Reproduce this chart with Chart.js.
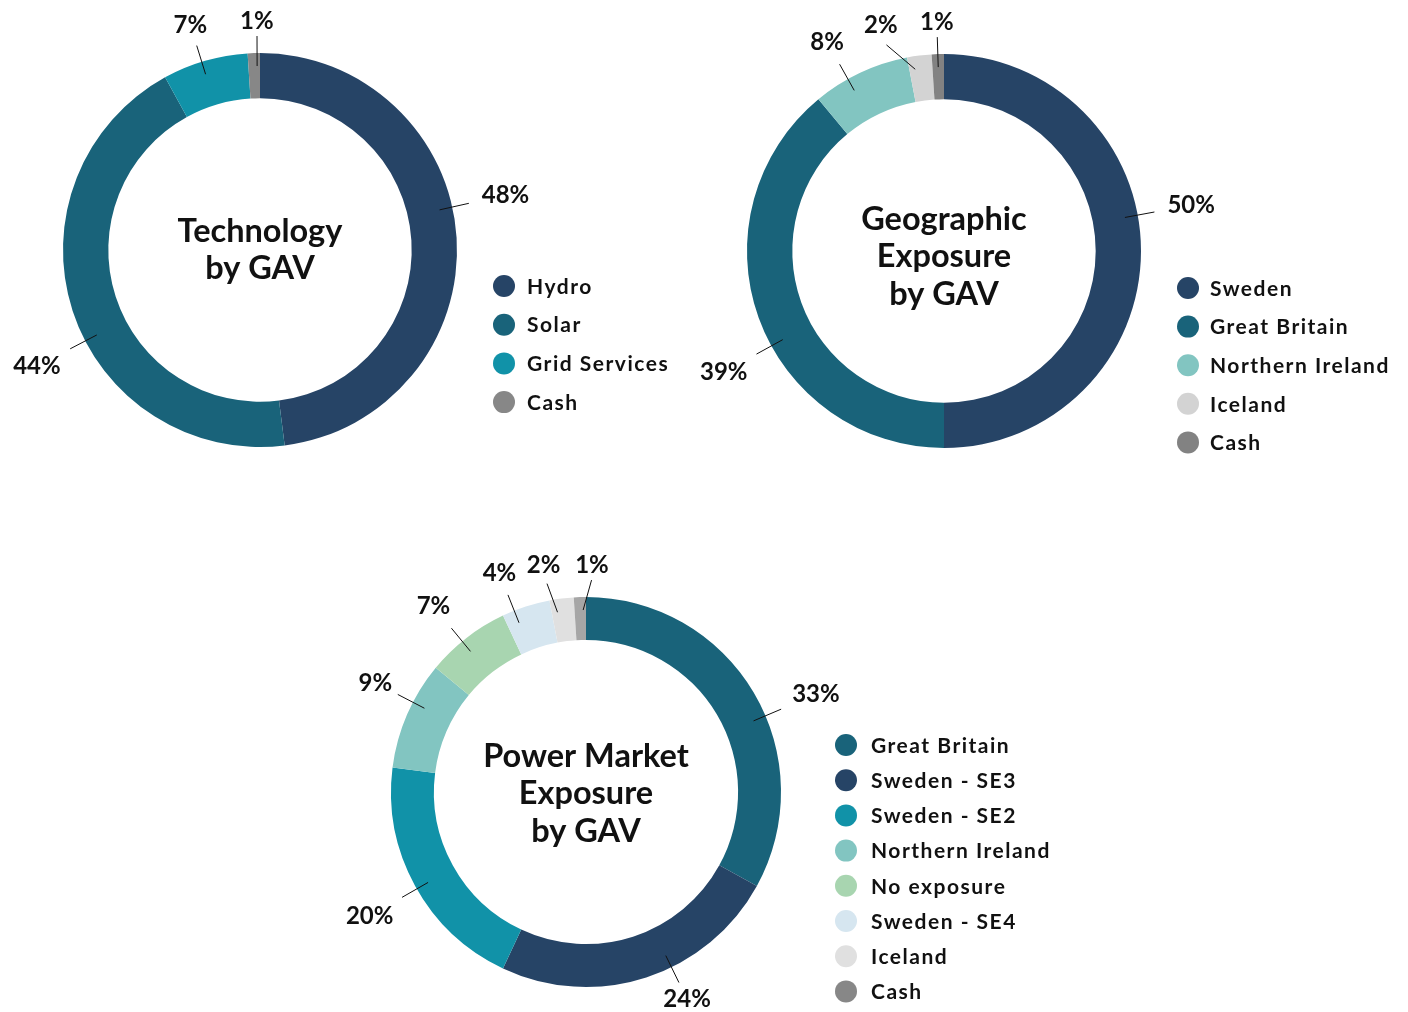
<!DOCTYPE html>
<html>
<head>
<meta charset="utf-8">
<script src="https://cdn.jsdelivr.net/npm/chart.js@4"></script>
<style>
  body { margin: 0; background: #fff; width: 1408px; height: 1012px; position: relative; overflow: hidden; }
  .box { position: absolute; }
</style>
</head>
<body>
<div class="box" style="left:0;top:0;width:700px;height:470px"><canvas id="tech"></canvas></div>
<div class="box" style="left:690px;top:0;width:718px;height:470px"><canvas id="geo"></canvas></div>
<div class="box" style="left:330px;top:530px;width:740px;height:482px"><canvas id="power"></canvas></div>
<script>
// Technology by GAV
const techLabels = ['Hydro', 'Solar', 'Grid Services', 'Cash'];
const techValues = [48, 44, 7, 1];

// Geographic exposure by GAV
const geoLabels = ['Sweden', 'Great Britain', 'Northern Ireland', 'Iceland', 'Cash'];
const geoValues = [50, 39, 8, 2, 1];

// Power market exposure by GAV
const powerLabels = ['Great Britain', 'Sweden - SE3', 'Sweden - SE2', 'Northern Ireland', 'No exposure', 'Sweden - SE4', 'Iceland', 'Cash'];
const powerValues = [33, 24, 20, 9, 7, 4, 2, 1];

// colours
const NAVY = '#264466', TEAL = '#19637a', CYAN = '#1192a8', MINT = '#82c5c1';
const techColors = [NAVY, TEAL, CYAN, '#878787'];
const geoColors = [NAVY, TEAL, MINT, '#d3d3d3', '#828282'];
const powerColors = [TEAL, NAVY, CYAN, MINT, '#a8d5b0', '#d6e6f0', '#e0e0e0', '#a6a6a6'];
const powerLegendColors = [TEAL, NAVY, CYAN, MINT, '#a8d5b0', '#d6e6f0', '#e0e0e0', '#878787'];

const FONT = 'Lato, "Open Sans", sans-serif';
const DEG = Math.PI / 180;

const extras = {
  id: 'extras',
  afterDraw(chart, args, opts) {
    const ctx = chart.ctx;
    const meta = chart.getDatasetMeta(0);
    const values = chart.data.datasets[0].data;
    ctx.save();

    // leader lines + percent labels (label angle nudged like the office-style "best fit")
    ctx.font = 'bold 24px ' + FONT;
    ctx.fillStyle = '#111';
    ctx.strokeStyle = '#111';
    ctx.lineWidth = 1;
    ctx.textAlign = 'center';
    ctx.textBaseline = 'middle';
    meta.data.forEach((arc, i) => {
      const mid = (arc.startAngle + arc.endAngle) / 2;
      const la = mid + (opts.nudge[i] || 0) * DEG;
      const inset = Math.min((arc.endAngle - arc.startAngle) * 0.25, 3 * DEG);
      const sa = Math.min(Math.max(la, arc.startAngle + inset), arc.endAngle - inset);
      const r0 = arc.outerRadius - 13, r1 = arc.outerRadius + 17;
      ctx.beginPath();
      ctx.moveTo(arc.x + Math.cos(sa) * r0, arc.y + Math.sin(sa) * r0);
      ctx.lineTo(arc.x + Math.cos(la) * r1, arc.y + Math.sin(la) * r1);
      ctx.stroke();
      const dx = Math.cos(la), dy = Math.sin(la);
      const txt = values[i] + '%';
      const w = ctx.measureText(txt).width;
      const off = (w / 2 + 10) * Math.abs(dx) + 12 * Math.abs(dy) + 2 + ((opts.pull && opts.pull[i]) || 0);
      ctx.fillText(txt, arc.x + dx * (r1 + off), arc.y + dy * (r1 + off));
    });

    // centre title
    const c = meta.data[0];
    ctx.font = 'bold 32.5px ' + FONT;
    const lines = opts.title;
    const lh = 37.5;
    lines.forEach((t, k) => {
      ctx.fillText(t, c.x, c.y + opts.titleDy + (k - (lines.length - 1) / 2) * lh);
    });

    // legend
    const lg = opts.legend;
    ctx.font = 'bold 21px ' + FONT;
    ctx.letterSpacing = '1.5px';
    ctx.textAlign = 'left';
    chart.data.labels.forEach((lab, i) => {
      const y = lg.y + i * lg.step;
      ctx.beginPath();
      ctx.arc(lg.x, y, 11, 0, Math.PI * 2);
      ctx.fillStyle = lg.colors[i];
      ctx.fill();
      ctx.fillStyle = '#111';
      ctx.fillText(lab, lg.x + lg.dx, y + 1);
    });
    ctx.restore();
  }
};

function makeDoughnut(id, labels, values, colors, cutout, padding, extraOpts) {
  return new Chart(document.getElementById(id), {
    type: 'doughnut',
    data: {
      labels: labels,
      datasets: [{ data: values, backgroundColor: colors, borderWidth: 0 }]
    },
    options: {
      responsive: true,
      maintainAspectRatio: false,
      animation: false,
      cutout: cutout,
      layout: { padding: padding },
      plugins: {
        legend: { display: false },
        tooltip: { enabled: false },
        extras: extraOpts
      }
    },
    plugins: [extras]
  });
}

makeDoughnut('tech', techLabels, techValues, techColors, '77%',
  { left: 63, top: 53, right: 243, bottom: 23 },
  {
    title: ['Technology', 'by GAV'], titleDy: 0,
    nudge: [-9, -9.5, -1, 1],
    legend: { x: 504, y: 286, step: 38.7, dx: 23, colors: techColors }
  });

makeDoughnut('geo', geoLabels, geoValues, geoColors, '77%',
  { left: 57, top: 54, right: 267, bottom: 22 },
  {
    title: ['Geographic', 'Exposure', 'by GAV'], titleDy: 6,
    nudge: [-10.5, -9, -4, -8.4, 0],
    legend: { x: 498, y: 288, step: 38.6, dx: 22, colors: geoColors }
  });

makeDoughnut('power', powerLabels, powerValues, powerColors, '78%',
  { left: 61, top: 67, right: 289, bottom: 25 },
  {
    title: ['Power Market', 'Exposure', 'by GAV'], titleDy: 2,
    nudge: [7.6, -8, -1, 4, -1.6, -3.6, -3.4, 3.3],
    pull: [0, -9, 0, -6, 0, 0, 0, 0],
    legend: { x: 516, y: 215, step: 35.2, dx: 25, colors: powerLegendColors }
  });
</script>
</body>
</html>
